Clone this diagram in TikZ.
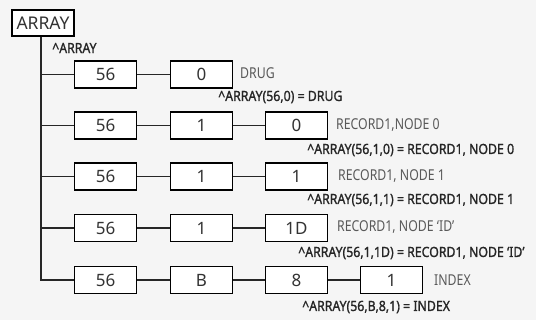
\documentclass[tikz,border=0pt]{standalone}
\usepackage{fontspec}
\setmainfont{Noto Sans}
\newfontfamily\sidefont[FakeStretch=0.82]{Noto Sans}
\newfontfamily\keyfont[FakeStretch=0.88, FakeBold=1.2]{Noto Sans}
\usetikzlibrary{calc}

\begin{document}
\begin{tikzpicture}[x=1pt, y=-1pt,
  cell/.style={draw, line width=1.2pt, fill=white, minimum width=62pt, minimum height=27pt, inner sep=0pt, font=\fontsize{17}{17}\selectfont, text=black!80},
  side/.style={anchor=west, inner sep=0pt, font=\sidefont\fontsize{15}{15}\selectfont, text=black!65},
  key/.style={anchor=west, inner sep=0pt, font=\keyfont\fontsize{14}{14}\selectfont, text=black!85},
  link/.style={line width=1.2pt, black!85}]
\useasboundingbox [fill=black!4] (0, 0) rectangle (536, 320);
\def\t{41}

\node (arr) [draw, line width=1.2pt, fill=white, minimum width=62pt, minimum height=26pt, inner sep=0pt, font=\fontsize{17.5}{17.5}\selectfont, text=black!80] at (43, 23) {ARRAY};
\node (karr) [key] at (52, 48) {\textasciicircum ARRAY};

% row 1
\node (a1) [cell] at (105.5, 74.5) {56};
\node (b1) [cell] at (201.5, 74.5) {0};
\node (s1) [side] at (240, 73) {DRUG};
\node (k1) [key] at (218, 97) {\textasciicircum ARRAY(56,0) = DRUG};

% row 2
\node (a2) [cell] at (105.5, 125.5) {56};
\node (b2) [cell] at (201.5, 125.5) {1};
\node (c2) [cell] at (296.5, 125.5) {0};
\node (s2) [side] at (336, 125) {RECORD1,NODE 0};
\node (k2) [key] at (307, 150) {\textasciicircum ARRAY(56,1,0) = RECORD1, NODE 0};

% row 3
\node (a3) [cell] at (105.5, 176.5) {56};
\node (b3) [cell] at (201.5, 176.5) {1};
\node (c3) [cell] at (296.5, 176.5) {1};
\node (s3) [side] at (338, 176) {RECORD1, NODE 1};
\node (k3) [key] at (307, 200) {\textasciicircum ARRAY(56,1,1) = RECORD1, NODE 1};

% row 4
\node (a4) [cell] at (105.5, 228) {56};
\node (b4) [cell] at (201.5, 228) {1};
\node (c4) [cell] at (296.5, 228) {1D};
\node (s4) [side] at (337, 227) {RECORD1, NODE ‘ID’};
\node (k4) [key] at (298, 253) {\textasciicircum ARRAY(56,1,1D) = RECORD1, NODE ‘ID’};

% row 5
\node (a5) [cell] at (105.5, 280) {56};
\node (b5) [cell] at (201.5, 280) {B};
\node (c5) [cell] at (296.5, 280) {8};
\node (d5) [cell] at (391.5, 280) {1};
\node (s5) [side] at (434, 280) {INDEX};
\node (k5) [key] at (302, 307) {\textasciicircum ARRAY(56,B,8,1) = INDEX};

\coordinate (t1) at (\t, 74.5);
\coordinate (t2) at (\t, 125.5);
\coordinate (t3) at (\t, 176.5);
\coordinate (t4) at (\t, 228);
\coordinate (t5) at (\t, 280);

\draw [link] (arr.south -| t1) -- (t5) -- (a5);
\draw [link] (t1) -- (a1);
\draw [link] (t2) -- (a2);
\draw [link] (t3) -- (a3);
\draw [link] (t4) -- (a4);

\draw [link] (a1) -- (b1);
\draw [link] (a2) -- (b2);
\draw [link] (b2) -- (c2);
\draw [link] (a3) -- (b3);
\draw [link] (b3) -- (c3);
\draw [link] (a4) -- (b4);
\draw [link] (b4) -- (c4);
\draw [link] (a5) -- (b5);
\draw [link] (b5) -- (c5);
\draw [link] (c5) -- (d5);
\end{tikzpicture}
\end{document}
